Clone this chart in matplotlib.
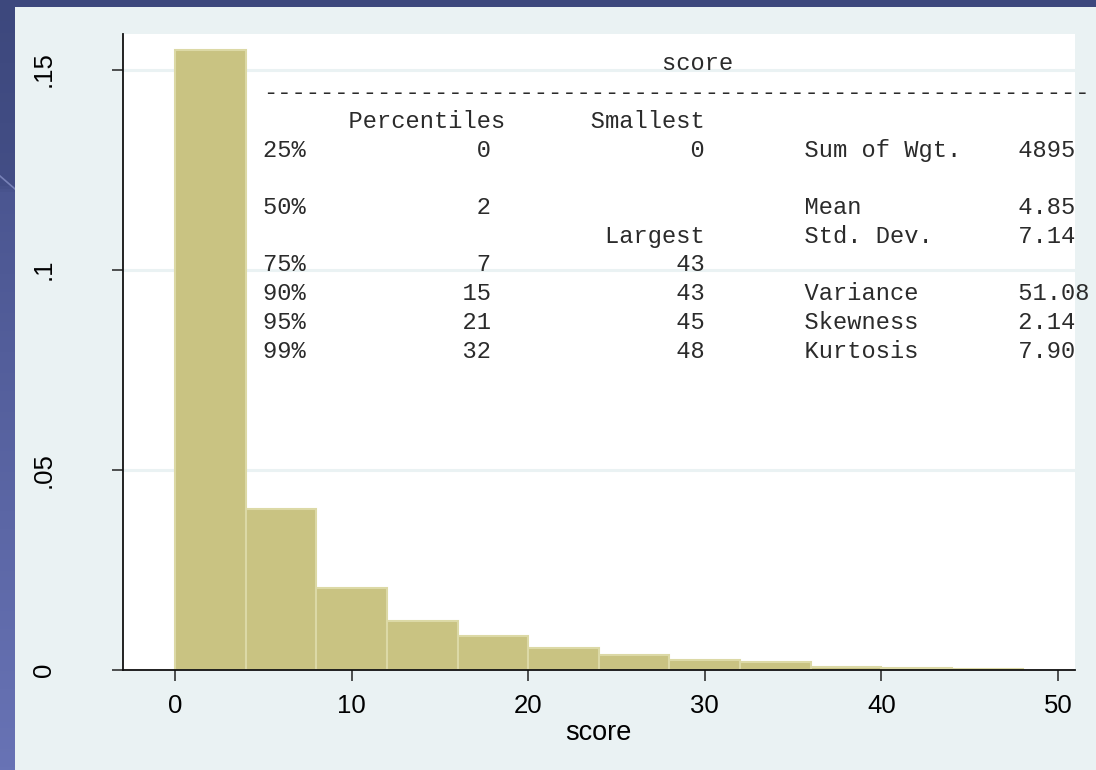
import numpy as np
import matplotlib
matplotlib.use("Agg")
import matplotlib.pyplot as plt
from matplotlib.colors import LinearSegmentedColormap
from matplotlib.lines import Line2D
from matplotlib.patches import Rectangle

W, H = 1096, 770

# Histogram of score: bin starts (width 4) and densities
bin_left = [0, 4, 8, 12, 16, 20, 24, 28, 32, 36, 40, 44]
bin_width = 4
density = [0.1548, 0.0402, 0.0204, 0.01225, 0.00858, 0.00558,
           0.00375, 0.0025, 0.0019, 0.00083, 0.00043, 0.00025]

x_ticks = [0, 10, 20, 30, 40, 50]
y_ticks = [0, 0.05, 0.10, 0.15]
y_tick_labels = ["0", ".05", ".1", ".15"]

# Summary statistics shown in the plot
pct_labels = ["25%", "50%", "75%", "90%", "95%", "99%"]
pct_values = ["0", "2", "7", "15", "21", "32"]
smallest = ["0"]
largest = ["43", "43", "45", "48"]
stat_names = ["Sum of Wgt.", "Mean", "Std. Dev.", "Variance", "Skewness", "Kurtosis"]
stat_values = ["4895", "4.85", "7.14", "51.08", "2.14", "7.90"]

BAR_FILL = "#C9C382"
BAR_EDGE = "#DCD9A6"
PANEL = "#EAF2F3"

fig = plt.figure(figsize=(W / 100, H / 100), dpi=100)

# slide backdrop: blue vertical gradient
bg = fig.add_axes([0, 0, 1, 1], zorder=-10)
bg.set_axis_off()
cmap = LinearSegmentedColormap.from_list(
    "slide", [(0.0, "#3D487D"), (0.24, "#434E86"), (0.25, "#4B5691"), (1.0, "#6873B5")])
grad = np.linspace(0, 1, 256).reshape(-1, 1)
bg.imshow(grad, aspect="auto", cmap=cmap, extent=[0, 1, 0, 1], origin="upper")
bg.add_line(Line2D([0, 15 / W], [1 - 176 / H, 1 - 189 / H], color="#7882B8", lw=1.2))
bg.set_xlim(0, 1)
bg.set_ylim(0, 1)

# graph region panel
fig.patches.append(Rectangle((15 / W, 0), 1 - 15 / W, 1 - 7 / H, transform=fig.transFigure,
                             facecolor=PANEL, edgecolor="none", zorder=-5))

ax = fig.add_axes([122.5 / W, 1 - 670 / H, (1075 - 122.5) / W, (670 - 33.5) / H])
ax.set_facecolor("white")
ax.bar(bin_left, density, width=bin_width, align="edge",
       color=BAR_FILL, edgecolor=BAR_EDGE, linewidth=1.5, zorder=2)

ax.set_xlim(-2.97, 50.96)
ax.set_ylim(0, 0.159)
ax.set_xticks(x_ticks)
ax.set_xticklabels([str(t) for t in x_ticks], fontsize=18.5, family="Liberation Sans")
ax.set_yticks(y_ticks)
ax.set_yticklabels(y_tick_labels, fontsize=18.5, family="Liberation Sans",
                   rotation=90, va="center")
ax.tick_params(axis="x", length=8, width=1.1, pad=9, color="#222222")
ax.tick_params(axis="y", length=8, width=1.1, pad=40, color="#222222")
ax.yaxis.grid(True, color=PANEL, linewidth=2.2, zorder=0)
ax.set_axisbelow(True)
for s in ("top", "right"):
    ax.spines[s].set_visible(False)
for s in ("left", "bottom"):
    ax.spines[s].set_linewidth(1.3)
    ax.spines[s].set_color("#111111")
    ax.spines[s].set_zorder(3)
ax.set_xlabel("score", fontsize=19.5, family="Liberation Sans", labelpad=1.5)


# summary table in monospace columns
def put(line, col, s):
    line = line.ljust(col)
    return line[:col] + s + line[col + len(s):]


def put_right(line, end_col, s):
    return put(line, end_col - len(s), s)


lines = [""] * 11
lines[0] = put("", 28, "score")
lines[1] = "-" * 58
lines[2] = put(put("", 6, "Percentiles"), 23, "Smallest")

pct_rows = [3, 5, 7, 8, 9, 10]
for r, lab, val in zip(pct_rows, pct_labels, pct_values):
    lines[r] = put_right(put(lines[r], 0, lab), 16, val)
lines[3] = put_right(lines[3], 31, smallest[0])
lines[6] = put_right(lines[6], 31, "Largest")
for r, val in zip([7, 8, 9, 10], largest):
    lines[r] = put_right(lines[r], 31, val)
stat_rows = [3, 5, 6, 8, 9, 10]
for r, name, val in zip(stat_rows, stat_names, stat_values):
    lines[r] = put(put(lines[r], 38, name), 53, val)

x0 = 263
base0 = 70.5
pitch = 28.7
for k, ln in enumerate(lines):
    if ln.strip():
        fig.text(x0 / W, 1 - (base0 + k * pitch) / H, ln, family="Liberation Mono",
                 fontsize=17.1, color="#2B2B2B", va="baseline", ha="left")

fig.savefig("out.png", dpi=100)
